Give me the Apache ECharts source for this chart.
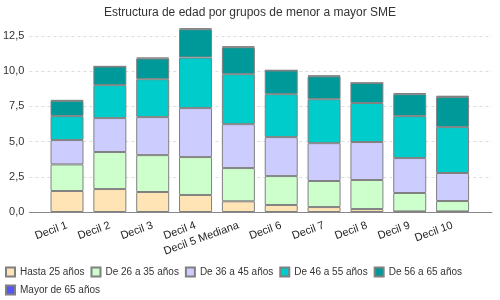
<!DOCTYPE html>
<html><head><meta charset="utf-8">
<script src="https://cdn.jsdelivr.net/npm/echarts@6/dist/echarts.min.js"></script>
<style>html,body{margin:0;padding:0;background:#fff}#c{width:500px;height:300px}</style>
</head><body><div id="c"></div>
<script>
const categories = ['Decil 1','Decil 2','Decil 3','Decil 4','Decil 5 Mediana','Decil 6','Decil 7','Decil 8','Decil 9','Decil 10'];
const seriesNames = ['Hasta 25 años','De 26 a 35 años','De 36 a 45 años','De 46 a 55 años','De 56 a 65 años','Mayor de 65 años'];
const hasta25 = [1.49,1.63,1.42,1.21,0.76,0.50,0.35,0.21,0.04,0.04];
const de26a35 = [1.89,2.63,2.62,2.69,2.36,2.05,1.85,2.06,1.31,0.74];
const de36a45 = [1.73,2.41,2.70,3.48,3.12,2.77,2.69,2.70,2.48,1.99];
const de46a55 = [1.70,2.34,2.69,3.59,3.55,3.05,3.12,2.77,2.98,3.26];
const de56a65 = [1.09,1.32,1.47,2.01,1.91,1.68,1.63,1.42,1.56,2.13];
const mayor65 = [0.05,0.02,0.07,0.07,0.07,0.02,0.06,0.02,0.08,0.10];
const yTicks = {min: 0, max: 12.5, interval: 2.5};
const colors = ['#FFE4B5','#CCFFCC','#CCCCFF','#00CCCC','#009999','#5555FF'];
const values = [hasta25, de26a35, de36a45, de46a55, de56a65, mayor65];

const FF = 'Liberation Sans, Arial, sans-serif';
const chart = echarts.init(document.getElementById('c'), null, {renderer: 'canvas'});
const fmt = v => v.toFixed(1).replace('.', ',');
chart.setOption({
  animation: false,
  color: colors,
  title: {text: 'Estructura de edad por grupos de menor a mayor SME', left: 'center', top: 2,
    textStyle: {fontSize: 12, fontWeight: 'normal', color: '#333', fontFamily: FF}},
  legend: {left: 5, right: 0, top: 266, padding: 0, itemWidth: 9, itemHeight: 9, itemGap: 6, icon: 'rect',
    textStyle: {fontSize: 10, color: '#333', fontFamily: FF, lineHeight: 12},
    data: seriesNames},
  grid: [
    {left: 27, right: 8, top: 36, bottom: 88},
    {left: 45.6, right: 26, top: 36, bottom: 88}
  ],
  xAxis: [
    {gridIndex: 0, type: 'value', min: 0, max: 1, axisLabel: {show: false}, axisTick: {show: false},
      splitLine: {show: false}, axisLine: {show: true, lineStyle: {color: '#888', width: 1}}},
    {gridIndex: 1, type: 'category', data: categories, axisLine: {show: false}, axisTick: {show: false},
      axisLabel: {rotate: 20, margin: 13, fontSize: 11, color: '#222', interval: 0, fontFamily: FF}}
  ],
  yAxis: [
    {gridIndex: 0, type: 'value', min: yTicks.min, max: yTicks.max, interval: yTicks.interval,
      axisLine: {show: false}, axisTick: {show: false},
      axisLabel: {formatter: fmt, fontSize: 11, color: '#333', margin: 5, fontFamily: FF},
      splitLine: {show: true, lineStyle: {color: '#ddd', type: [3, 3]}}},
    {gridIndex: 1, type: 'value', min: yTicks.min, max: yTicks.max, interval: yTicks.interval, show: false,
      splitLine: {show: false}}
  ],
  series: seriesNames.map((n, i) => ({
    name: n, type: 'bar', stack: 'total', xAxisIndex: 1, yAxisIndex: 1, clip: false,
    barWidth: '77%', data: values[i],
    itemStyle: {color: colors[i], borderColor: '#808080', borderWidth: 1}
  }))
});
</script></body></html>
